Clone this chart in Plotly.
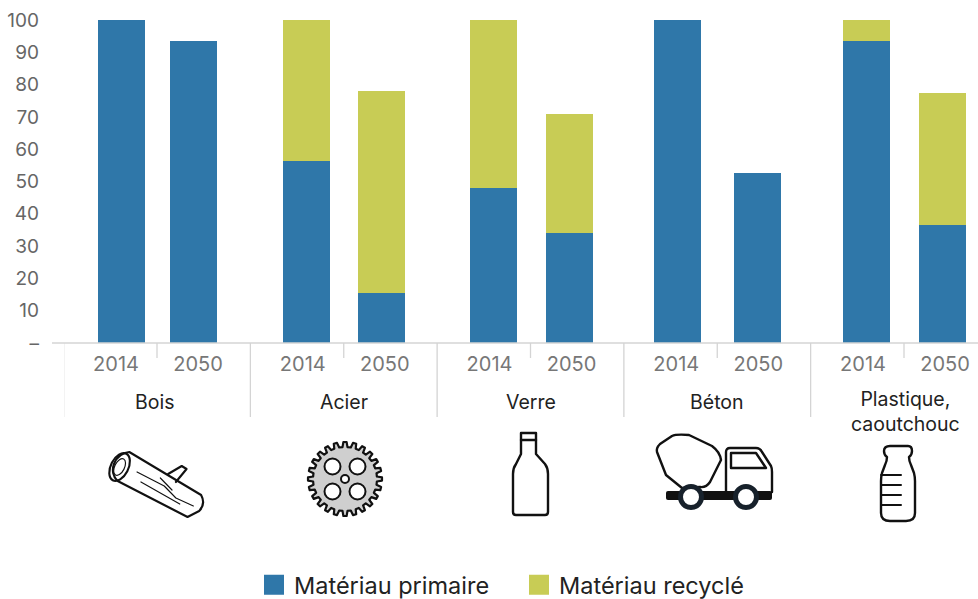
import base64
import math
import plotly.graph_objects as go

groups = ["Bois", "Acier", "Verre", "Béton", "Plastique,<br>caoutchouc"]
years = ["2014", "2050"]
primary = [[100, 93.5], [56.5, 15.5], [48, 34], [100, 52.5], [93.5, 36.5]]
recycled = [[0, 0], [43.5, 62.5], [52, 37], [0, 0], [6.5, 41]]
series_names = ["Matériau primaire", "Matériau recyclé"]
y_ticks = [0, 10, 20, 30, 40, 50, 60, 70, 80, 90, 100]
y_labels = ["–", "10", "20", "30", "40", "50", "60", "70", "80", "90", "100"]

BLUE = "#2f77a9"
OLIVE = "#c8cc55"
FONT = "Inter"
W, H = 978, 599
L, T, B = 64, 20, 343
PITCH = 186.75
X0 = 157
GROUP_SHIFT = [0.5, 0.25, 1.0, 0.5, 0.5]
BAR_GAP = [36, 37.5, 38, 40, 38]
LABEL_GAP = 41
NAME_SHIFT = [-2.5, 0, 0, 0, 1]


def px_x(px):
    return (px - L) / (W - L)


def px_y(py):
    return (B - py) / (B - T)


xs, tick_xs, labels, p_vals, r_vals = [], [], [], [], []
for g in range(len(groups)):
    for k, year in enumerate(years):
        sign = 2 * k - 1
        xs.append(g + (GROUP_SHIFT[g] + sign * BAR_GAP[g]) / PITCH)
        tick_xs.append(g + sign * LABEL_GAP / PITCH)
        labels.append(year)
        p_vals.append(primary[g][k])
        r_vals.append(recycled[g][k])

fig = go.Figure()
for name, vals, col in ((series_names[0], p_vals, BLUE), (series_names[1], r_vals, OLIVE)):
    fig.add_bar(x=xs, y=vals, name=name, marker=dict(color=col, line=dict(width=0)),
                width=47 / PITCH, showlegend=False)
    fig.add_scatter(x=[None], y=[None], mode="markers", name=name,
                    marker=dict(symbol="square", size=16, color=col, line=dict(width=4, color=col)))

shapes = [dict(type="line", xref="paper", yref="paper", x0=px_x(52), x1=1, y0=0, y1=0,
               line=dict(color="#d4d4d4", width=1.5))]
annotations = []
for g, label in enumerate(groups):
    shapes.append(dict(type="line", xref="x", yref="paper", x0=g - 0.5, x1=g - 0.5,
                       y0=0, y1=px_y(417), line=dict(color="#d4d4d4", width=1.3)))
    shapes.append(dict(type="line", xref="x", yref="paper", x0=g, x1=g,
                       y0=0, y1=px_y(358), line=dict(color="#d4d4d4", width=1.3)))
    py = 411 if "<br>" in label else 402
    annotations.append(dict(xref="x", yref="paper", x=g + NAME_SHIFT[g] / PITCH, y=px_y(py),
                            text=label, showarrow=False, yanchor="middle",
                            font=dict(family=FONT, size=19.5, color="#222222")))

gear_pts = []
n = 24
for i in range(n):
    a = 2 * math.pi * i / n
    d = 2 * math.pi / n
    for da, r in ((-0.30, 32), (-0.17, 37), (0.17, 37), (0.30, 32)):
        t = a + da * d
        gear_pts.append(f"{40 + r * math.cos(t):.1f},{40 + r * math.sin(t):.1f}")
gear_path = "M" + " L".join(gear_pts) + " Z"

S = 'fill="none" stroke="#111" stroke-width="{}" stroke-linecap="round" stroke-linejoin="round"'
icons = {
    "log": ((106, 448, 99, 72), f'''<g {S.format(2.2)}>
      <path d="M24 4 L98 47 Q103 56 96 63 L84 69 L12 33 C2 24 8 6 24 4 Z" fill="#fff"/>
      <ellipse cx="14" cy="19" rx="9" ry="15" transform="rotate(28 14 19)"/>
      <ellipse cx="14" cy="19" rx="5" ry="9" transform="rotate(28 14 19)" stroke-width="1.2"/>
      <path d="M64 26 L78 18 L83 21 L72 34" /><path d="M32 24 L60 38 L72 50 L90 58 M36 34 L76 56 M56 30 L68 42" stroke-width="1.2"/>
      </g>'''),
    "gear": ((305, 439, 80, 80), f'''<path d="{gear_path}" fill="#cfcfcf" stroke="#111" stroke-width="2.2" stroke-linejoin="round"/>
      <g fill="#fff" stroke="#111" stroke-width="2">
      <circle cx="27.5" cy="27.5" r="8"/><circle cx="52.5" cy="27.5" r="8"/>
      <circle cx="27.5" cy="52.5" r="8"/><circle cx="52.5" cy="52.5" r="8"/><circle cx="40" cy="40" r="4"/></g>'''),
    "bottle": ((510, 430, 40, 88), f'''<g {S.format(2.4)}>
      <path d="M11 3 H26 V24 L35 34 Q38 38 38 44 V82 Q38 85 35 85 H6 Q3 85 3 82 V44 Q3 38 6 34 L11 24 Z"/>
      <path d="M11 10 H26"/></g>'''),
    "truck": ((654, 432, 122, 84), f'''<g {S.format(2.4)}>
      <path d="M3 20 Q2 16 6 12 L18 4 Q22 2 35 3 L58 14 Q66 20 67 28 L56 50 Q52 56 46 55 L28 56 L12 43 Z"/>
      <path d="M72 60 V20 Q72 16 76 16 H102 Q106 16 108 20 L117 34 Q118 36 118 40 V60"/>
      <path d="M77 21 H102 L112 36 H77 Z"/>
      </g>
      <rect x="12" y="59" width="106" height="9" rx="2" fill="#111"/>
      <g fill="#fff" stroke="#17212b" stroke-width="5"><circle cx="37" cy="65" r="10.5"/><circle cx="92" cy="65" r="10.5"/></g>'''),
    "milk": ((878, 443, 40, 82), f'''<g {S.format(2.4)}>
      <path d="M12 3 H30 Q34 3 34 8 Q34 12 31 14 Q31 18 33 22 L36 30 Q37 34 37 38 V70 Q37 78 28 78 H12 Q3 78 3 70 V38 Q3 34 4 30 L7 22 Q9 18 9 14 Q6 12 6 8 Q6 3 12 3 Z"/>
      <path d="M3 32 H23 M3 42 H23 M3 52 H23 M3 62 H23" stroke-width="2"/></g>'''),
}
images = []
for (x, y, w, h), body in icons.values():
    vw = 102 if x == 106 else w
    svg = (f'<svg xmlns="http://www.w3.org/2000/svg" width="{w}" height="{h}" '
           f'viewBox="0 0 {vw} {h}" preserveAspectRatio="none">{body}</svg>')
    uri = "data:image/svg+xml;base64," + base64.b64encode(svg.encode()).decode()
    images.append(dict(source=uri, xref="paper", yref="paper", x=px_x(x), y=px_y(y),
                       sizex=w / (W - L), sizey=h / (B - T), xanchor="left", yanchor="top",
                       sizing="stretch", layer="above"))

fig.update_layout(
    width=W, height=H, barmode="stack", plot_bgcolor="white", paper_bgcolor="white",
    margin=dict(l=L, r=0, t=T, b=H - B, autoexpand=False),
    font=dict(family=FONT, color="#222222"),
    shapes=shapes, annotations=annotations, images=images,
    legend=dict(orientation="h", xref="paper", yref="paper", x=px_x(254), y=px_y(585),
                xanchor="left", yanchor="middle", entrywidth=220, entrywidthmode="pixels",
                traceorder="normal",
                font=dict(family=FONT, size=23.5, color="#222222"), bgcolor="rgba(0,0,0,0)",
                itemclick=False, itemdoubleclick=False),
    xaxis=dict(range=[(L - X0) / PITCH, (W - X0) / PITCH], tickmode="array",
               tickvals=tick_xs, ticktext=labels, showgrid=False, zeroline=False, showline=False,
               ticks="", ticklabelstandoff=7, tickfont=dict(family=FONT, size=20, color="#777777")),
    yaxis=dict(range=[0, 100], tickmode="array", tickvals=y_ticks, ticktext=y_labels,
               showgrid=False, zeroline=False, showline=False, ticks="",
               ticklabelstandoff=24, tickfont=dict(family=FONT, size=19, color="#666666")),
)
fig.write_html("out.html", post_script="document.body.style.margin='0';",
               config={"displayModeBar": False})
